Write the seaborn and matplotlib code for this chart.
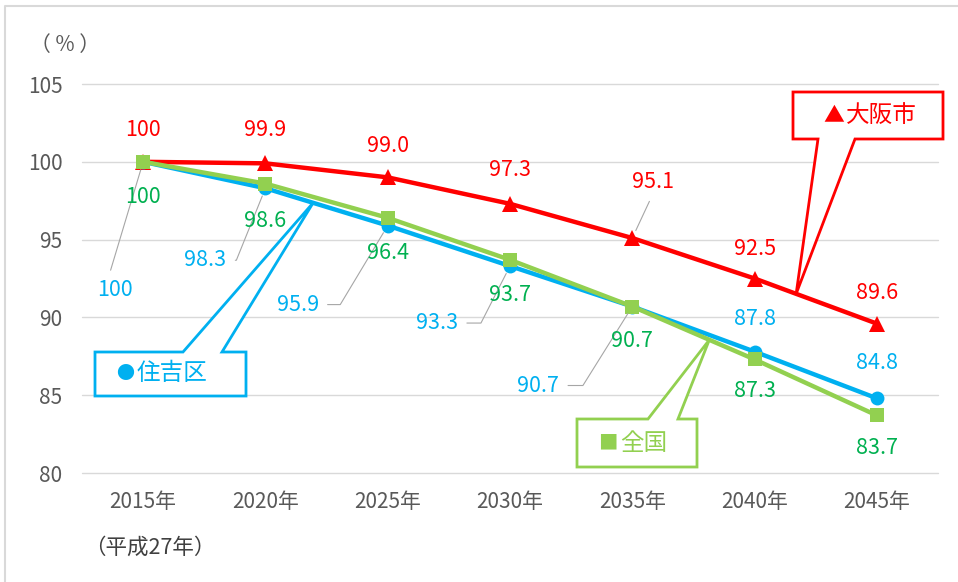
import numpy as np
import pandas as pd
import matplotlib.pyplot as plt
import seaborn as sns
from matplotlib.patches import Polygon
from matplotlib.lines import Line2D

# data #
years = ["2015年", "2020年", "2025年", "2030年", "2035年", "2040年", "2045年"]
osaka = [100, 99.9, 99.0, 97.3, 95.1, 92.5, 89.6]
sumiyoshi = [100, 98.3, 95.9, 93.3, 90.7, 87.8, 84.8]
zenkoku = [100, 98.6, 96.4, 93.7, 90.7, 87.3, 83.7]
osaka_labels = ["100", "99.9", "99.0", "97.3", "95.1", "92.5", "89.6"]
sumiyoshi_labels = ["100", "98.3", "95.9", "93.3", "90.7", "87.8", "84.8"]
zenkoku_labels = ["100", "98.6", "96.4", "93.7", "90.7", "87.3", "83.7"]

RED = "#FF0000"
BLUE = "#00B0F0"
GREEN = "#92D050"
GREEN_TXT = "#00B050"
GRAY = "#595959"
LEADER = "#A6A6A6"

sns.set_theme(style="white")
plt.rcParams['font.family'] = ['Noto Sans CJK JP', 'DejaVu Sans']

W, H = 958, 582
fig, ax = plt.subplots(figsize=(W / 100, H / 100), dpi=100)
ax.set_position([82 / W, 1 - 473 / H, (938 - 82) / W, (473 - 84) / H])

pos = np.arange(len(years))
df = pd.DataFrame({"pos": pos, "osaka": osaka, "sumiyoshi": sumiyoshi, "zenkoku": zenkoku})

# lines #
sns.lineplot(data=df, x="pos", y="osaka", ax=ax, color=RED, lw=3.2, marker="^",
             markersize=11, markeredgewidth=0, zorder=3)
sns.lineplot(data=df, x="pos", y="sumiyoshi", ax=ax, color=BLUE, lw=3.2, marker="o",
             markersize=10, markeredgewidth=0, zorder=4)
sns.lineplot(data=df, x="pos", y="zenkoku", ax=ax, color=GREEN, lw=3.2, marker="s",
             markersize=10, markeredgewidth=0, zorder=5)

# axes #
ax.set_xlim(-0.5, len(years) - 0.5)
ax.set_ylim(80, 105)
ax.set_yticks(range(80, 106, 5))
ax.set_xticks(pos)
ax.set_xticklabels(years)
ax.set_xlabel("")
ax.set_ylabel("")
ax.tick_params(axis="both", length=0, colors=GRAY, labelsize=15)
ax.tick_params(axis="y", pad=14)
ax.tick_params(axis="x", pad=13)
ax.grid(axis="y", color="#D9D9D9", lw=1)
for g in ax.get_ygridlines():
    g.set_clip_on(False)
ax.set_axisbelow(True)
for s in ax.spines.values():
    s.set_visible(False)

# data labels: offsets in pixels #
red_off = [(0, 32), (0, 33), (0, 31), (0, 34), (21, 56), (0, 30), (0, 31)]
blue_off = [(-28, -128), (-60, -72), (-90, -79), (-73, -57), (-94, -79), (0, 33), (0, 35)]
green_off = [(0, -35), (0, -37), (0, -35), (0, -35), (0, -34), (0, -32), (0, -33)]

# leader lines: index -> (relpos, connectionstyle) #
blue_lead = {
    0: ((0.3, 1.0), "arc3,rad=0"),
    1: ((1.0, 0.5), "angle,angleA=0,angleB=68,rad=0"),
    2: ((1.0, 0.5), "angle,angleA=0,angleB=59,rad=0"),
    3: ((1.0, 0.5), "angle,angleA=0,angleB=63,rad=0"),
    4: ((1.0, 0.5), "angle,angleA=0,angleB=58,rad=0"),
}
red_lead = {4: ((0.5, 0.0), "arc3,rad=0")}


def put_labels(vals, labs, offs, color, leads):
    for i, (v, t, o) in enumerate(zip(vals, labs, offs)):
        kw = {}
        if i in leads:
            rp, cs = leads[i]
            kw["arrowprops"] = dict(arrowstyle="-", color=LEADER, lw=0.8, relpos=rp,
                                    connectionstyle=cs, shrinkA=4, shrinkB=6)
        ax.annotate(t, xy=(i, v), xytext=o, textcoords="offset pixels", ha="center",
                    va="center", color=color, fontsize=15.5, zorder=6, **kw)


put_labels(osaka, osaka_labels, red_off, RED, red_lead)
put_labels(sumiyoshi, sumiyoshi_labels, blue_off, BLUE, blue_lead)
put_labels(zenkoku, zenkoku_labels, green_off, GREEN_TXT, {})


# callouts #
def px2data(px, py):
    return ax.transData.inverted().transform((px, H - py))


def callout(box, base, tip_x, vals, side, mark, text, color, msize):
    x0, y0, x1, y1 = box
    bx0, bx1 = base
    tip = (tip_x, np.interp(tip_x, pos, vals))
    if side == "bottom":
        pts = [(x0, y0), (x1, y0), (x1, y1), (bx1, y1), None, (bx0, y1), (x0, y1)]
    else:
        pts = [(x0, y0), (bx0, y0), None, (bx1, y0), (x1, y0), (x1, y1), (x0, y1)]
    verts = [tip if p is None else px2data(*p) for p in pts]
    ax.add_patch(Polygon(verts, closed=True, facecolor="white", edgecolor=color,
                         lw=2, zorder=7, clip_on=False))
    cy = (y0 + y1) / 2
    mx, my = px2data(mark[0], cy)
    ax.text(mx, my, mark[1], ha="center", va="center", color=color, fontsize=msize, zorder=8)
    tx, ty = px2data(mark[0] + 12, cy)
    ax.text(tx, ty, text, ha="left", va="center", color=color, fontsize=17, zorder=8)


callout((793, 92, 943, 139), (818, 855), 5.34, osaka, "bottom", (834, "▲"), "大阪市", RED, 15)
callout((95, 352, 246, 396), (183, 222), 1.39, sumiyoshi, "top", (125, "●"), "住吉区", BLUE, 13)
callout((577, 419, 697, 467), (648, 678), 4.63, zenkoku, "top", (608, "■"), "全国", GREEN, 14)

# extra texts #
fig.text(65 / W, 1 - 45 / H, "（ % ）", ha="center", va="center", color=GRAY, fontsize=15)
fig.text(150 / W, 1 - 548 / H, "（平成27年）", ha="center", va="center", color="#404040",
         fontsize=15.5)

# outer frame #
fig.add_artist(Line2D([5 / W, 5 / W, 1], [0, 1 - 6 / H, 1 - 6 / H], color="#D9D9D9", lw=1.5,
                      transform=fig.transFigure))

plt.savefig("out.png", dpi=100)
